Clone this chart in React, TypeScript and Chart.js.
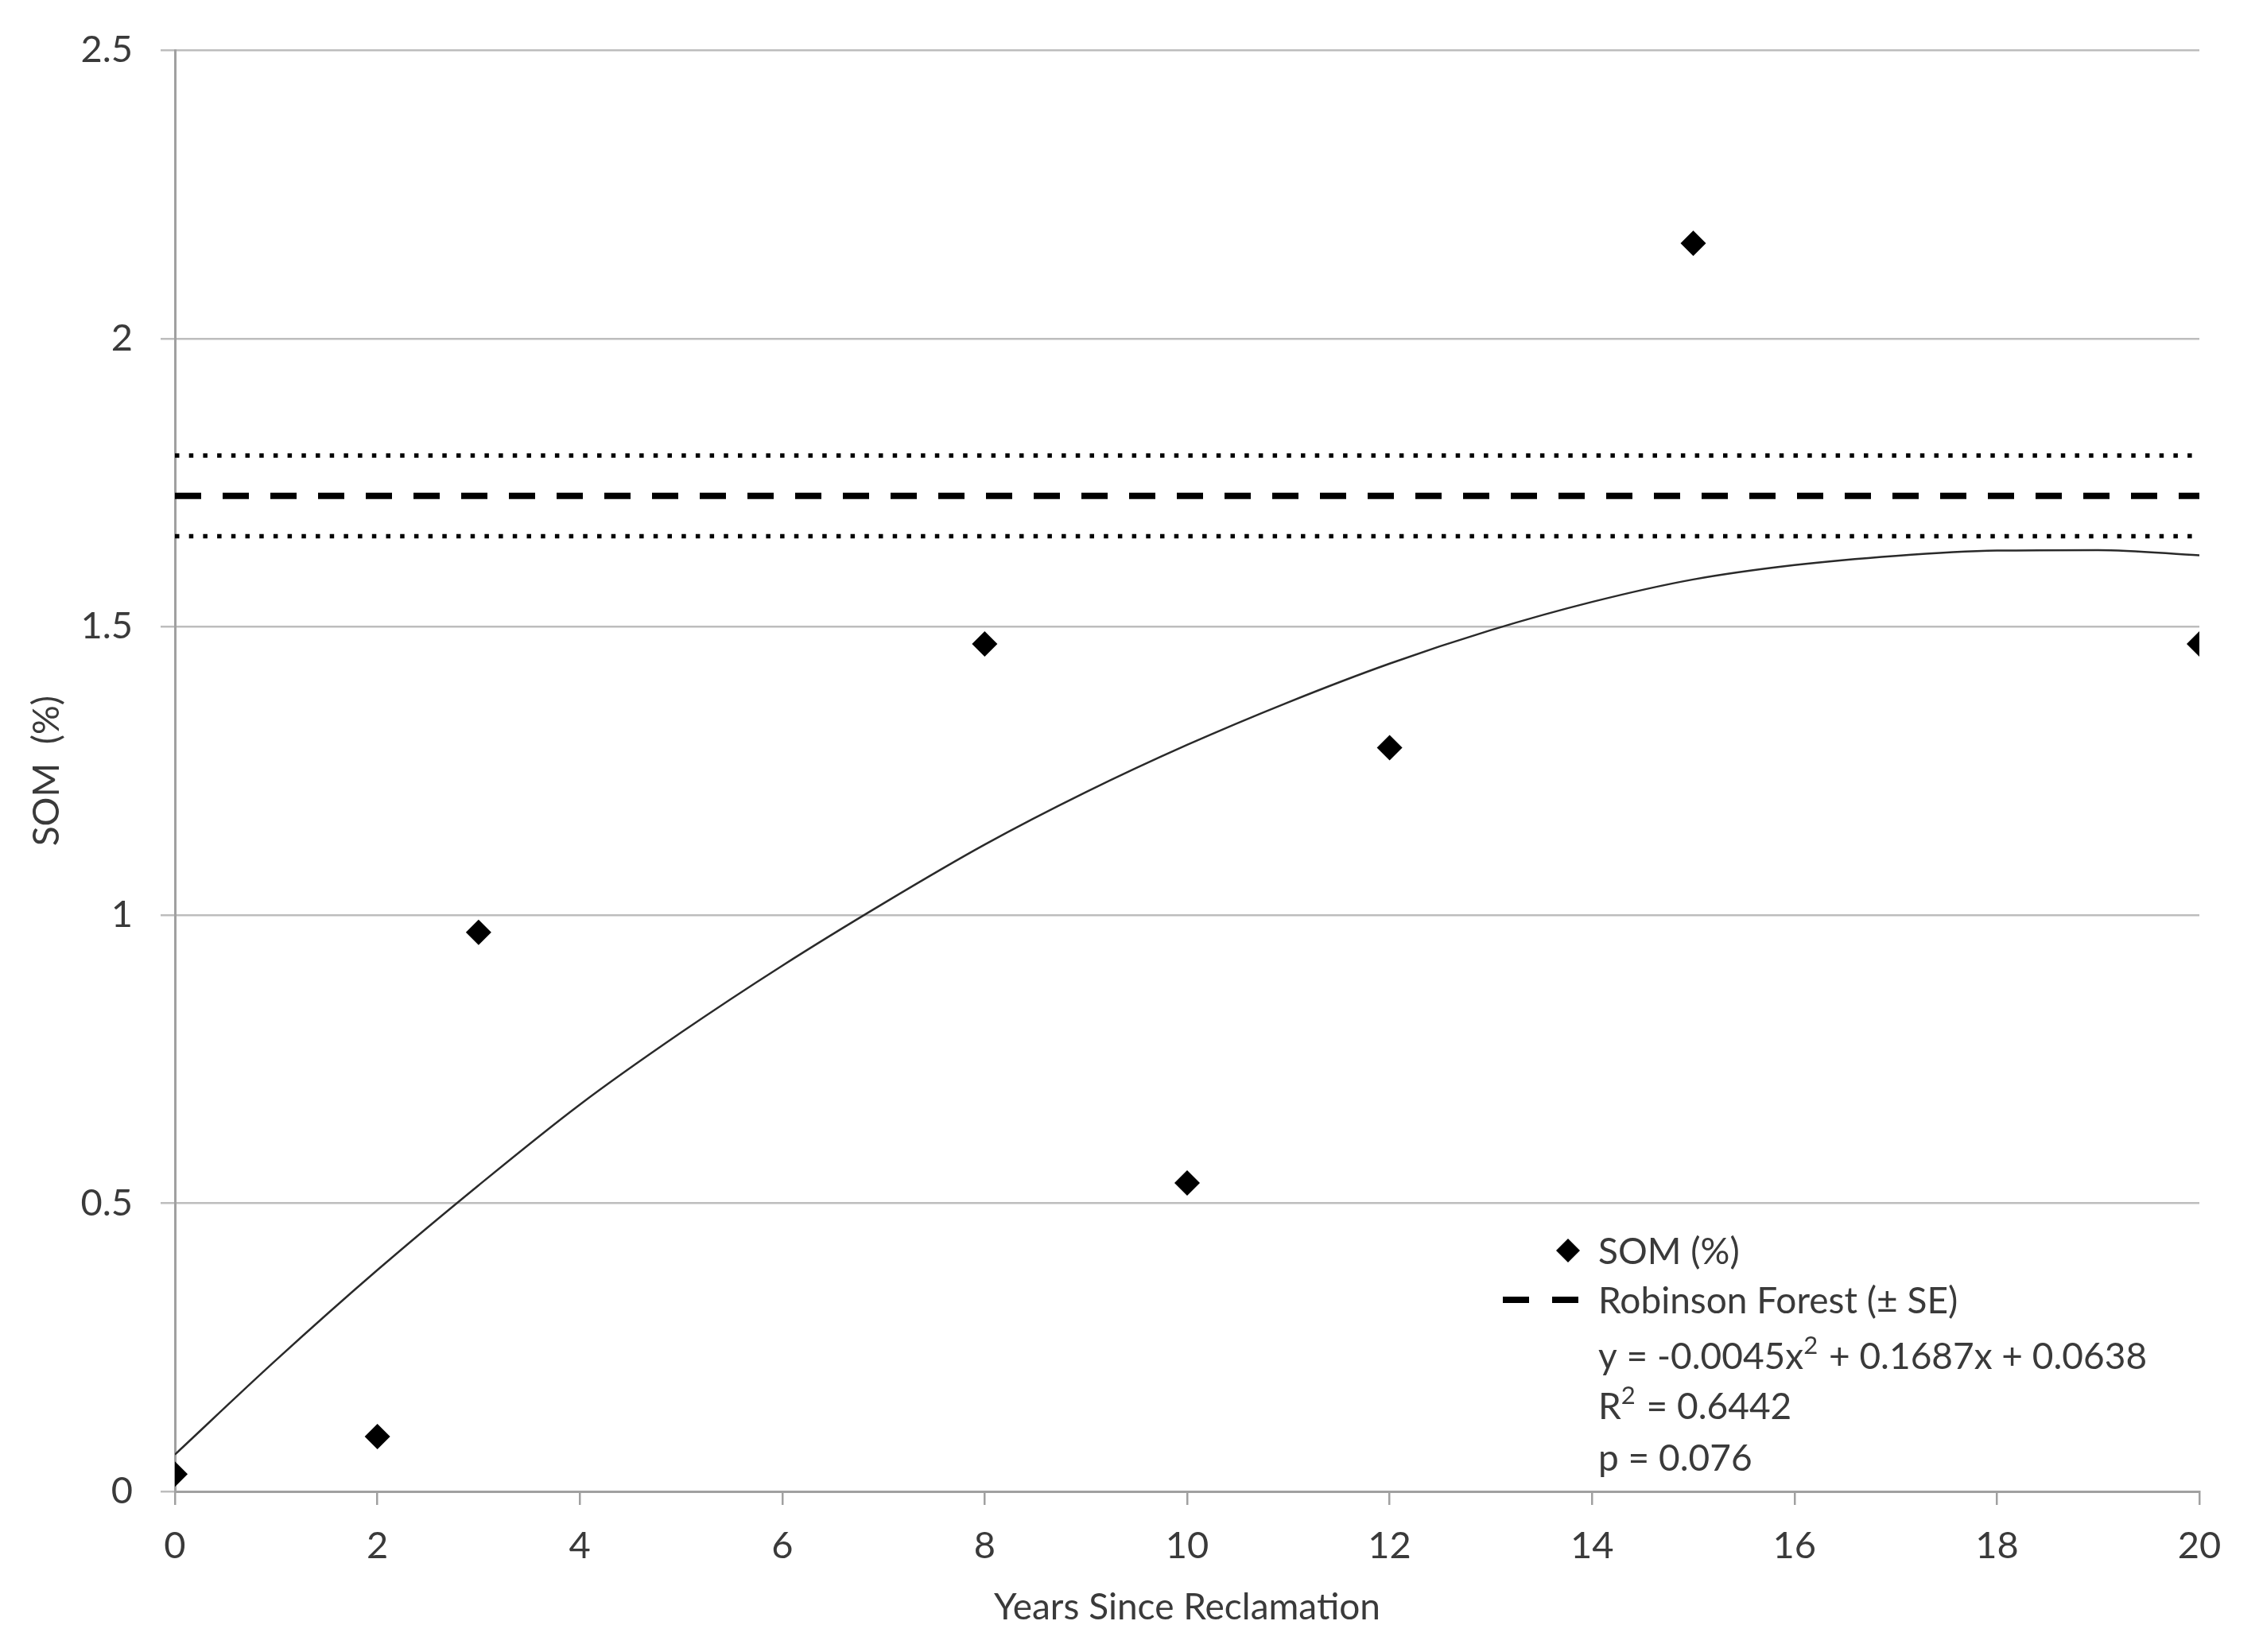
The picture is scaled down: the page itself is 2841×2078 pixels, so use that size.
import React, { useEffect, useRef } from 'react';
import { Chart, registerables } from 'chart.js';

Chart.register(...registerables);

// measured SOM values per site age
const years = [0, 2, 3, 8, 10, 12, 15, 20];
const somPercent = [0.03, 0.095, 0.97, 1.47, 0.535, 1.29, 2.165, 1.47];

// polynomial trend line
const trendYears = [0, 1, 2, 3, 4, 5, 6, 7, 8, 9, 10, 11, 12, 13, 14, 15, 16, 17, 18, 19, 20];
const trendSom = [0.064, 0.228, 0.384, 0.531, 0.671, 0.796, 0.912, 1.02, 1.122, 1.213, 1.295, 1.369, 1.436, 1.494, 1.543, 1.582, 1.607, 1.623, 1.632, 1.633, 1.624];

// Robinson Forest reference (mean and +/- SE)
const forestYears = [0, 20];
const forestMean = [1.727, 1.727];
const forestUpper = [1.797, 1.797];
const forestLower = [1.657, 1.657];

const legendLabels = ['SOM (%)', 'Robinson Forest (\u00b1 SE)'];
// fit text, split where a superscript "2" goes
const fitLines: string[][] = [
  ['y = -0.0045x', '2', ' + 0.1687x + 0.0638'],
  ['R', '2', ' = 0.6442'],
  ['p = 0.076'],
];

const FONT = 'Lato, "Open Sans", sans-serif';
const TEXT = '#3a3a3a';
const GRID = '#bdbdbd';
const AXIS = '#a0a0a0';

const toXY = (xs: number[], ys: number[]) => xs.map((x, i) => ({ x, y: ys[i] }));

const legendPlugin = {
  id: 'insideLegend',
  afterDraw(chart: any) {
    const ctx = chart.ctx;
    const base = `46px ${FONT}`;
    const sup = `31px ${FONT}`;
    ctx.save();
    ctx.font = base;
    ctx.textAlign = 'left';
    ctx.textBaseline = 'middle';
    const textX = 2010;

    // diamond marker
    ctx.fillStyle = '#000';
    ctx.beginPath();
    ctx.moveTo(1972, 1573 - 15);
    ctx.lineTo(1972 + 15, 1573);
    ctx.lineTo(1972, 1573 + 15);
    ctx.lineTo(1972 - 15, 1573);
    ctx.closePath();
    ctx.fill();
    ctx.fillStyle = TEXT;
    ctx.fillText(legendLabels[0], textX, 1575);

    // dashed marker
    ctx.strokeStyle = '#000';
    ctx.lineWidth = 8;
    ctx.beginPath();
    ctx.moveTo(1890, 1635);
    ctx.lineTo(1923, 1635);
    ctx.moveTo(1952, 1635);
    ctx.lineTo(1985, 1635);
    ctx.stroke();
    ctx.fillText(legendLabels[1], textX, 1637);

    const rows = [1707, 1770, 1835];
    fitLines.forEach((parts, i) => {
      let x = textX;
      parts.forEach((p, j) => {
        const isSup = parts.length === 3 && j === 1;
        ctx.font = isSup ? sup : base;
        ctx.fillText(p, x, isSup ? rows[i] - 14 : rows[i]);
        x += ctx.measureText(p).width + (isSup ? 2 : 0);
      });
    });
    ctx.restore();
  },
};

export default function App() {
  const canvasRef = useRef<HTMLCanvasElement>(null);
  const chartRef = useRef<Chart | null>(null);

  useEffect(() => {
    if (!canvasRef.current) return;
    if (chartRef.current) chartRef.current.destroy();
    const ctx = canvasRef.current.getContext('2d');
    if (!ctx) return;

    chartRef.current = new Chart(ctx, {
      type: 'scatter',
      data: {
        datasets: [
          {
            label: 'SOM (%)',
            data: toXY(years, somPercent),
            pointStyle: 'rectRot',
            pointRadius: 16,
            backgroundColor: '#000',
            borderColor: '#000',
            borderWidth: 0,
            showLine: false,
            order: 0,
          },
          {
            label: 'Trend',
            type: 'line',
            data: toXY(trendYears, trendSom),
            borderColor: '#2a2a2a',
            borderWidth: 2.5,
            pointRadius: 0,
            cubicInterpolationMode: 'monotone',
            fill: false,
            order: 1,
          },
          {
            label: 'Robinson Forest',
            type: 'line',
            data: toXY(forestYears, forestMean),
            borderColor: '#000',
            borderWidth: 8,
            borderDash: [33, 27],
            pointRadius: 0,
            fill: false,
            order: 2,
          },
          {
            label: '+SE',
            type: 'line',
            data: toXY(forestYears, forestUpper),
            borderColor: '#000',
            borderWidth: 5.5,
            borderDash: [5.5, 12.2],
            pointRadius: 0,
            fill: false,
            order: 3,
          },
          {
            label: '-SE',
            type: 'line',
            data: toXY(forestYears, forestLower),
            borderColor: '#000',
            borderWidth: 5.5,
            borderDash: [5.5, 12.2],
            pointRadius: 0,
            fill: false,
            order: 4,
          },
        ],
      },
      options: {
        responsive: false,
        animation: false,
        layout: { padding: { top: 33, right: 75, bottom: 0, left: 0 } },
        plugins: {
          legend: { display: false },
          tooltip: { enabled: false },
        },
        scales: {
          x: {
            type: 'linear',
            min: 0,
            max: 20,
            afterFit: (scale: any) => {
              scale.height = 202;
            },
            ticks: {
              stepSize: 2,
              color: TEXT,
              font: { family: FONT, size: 47 },
              padding: 24,
            },
            grid: {
              drawOnChartArea: false,
              drawTicks: true,
              tickLength: 17,
              color: AXIS,
              lineWidth: 2.5,
            },
            border: { display: true, color: AXIS, width: 3 },
            title: {
              display: true,
              text: 'Years Since Reclamation',
              color: TEXT,
              font: { family: FONT, size: 46 },
              padding: { top: 0, bottom: 28 },
            },
          },
          y: {
            type: 'linear',
            min: 0,
            max: 2.5,
            afterFit: (scale: any) => {
              scale.width = 220;
            },
            ticks: {
              stepSize: 0.5,
              color: TEXT,
              font: { family: FONT, size: 47 },
              padding: 35,
              callback: (v: any) => String(Number(v)),
            },
            grid: {
              color: GRID,
              lineWidth: 2.5,
              tickLength: 18,
            },
            border: { display: true, color: AXIS, width: 3 },
            title: {
              display: true,
              text: 'SOM  (%)',
              color: TEXT,
              font: { family: FONT, size: 46 },
              padding: { top: 32, bottom: 0 },
            },
          },
        },
      },
      plugins: [legendPlugin],
    } as any);

    return () => {
      if (chartRef.current) {
        chartRef.current.destroy();
        chartRef.current = null;
      }
    };
  }, []);

  return (
    <div style={{ position: 'fixed', left: 0, top: 0, width: 2841, height: 2078, background: '#fff' }}>
      <canvas ref={canvasRef} width={2841} height={2078}></canvas>
    </div>
  );
}
